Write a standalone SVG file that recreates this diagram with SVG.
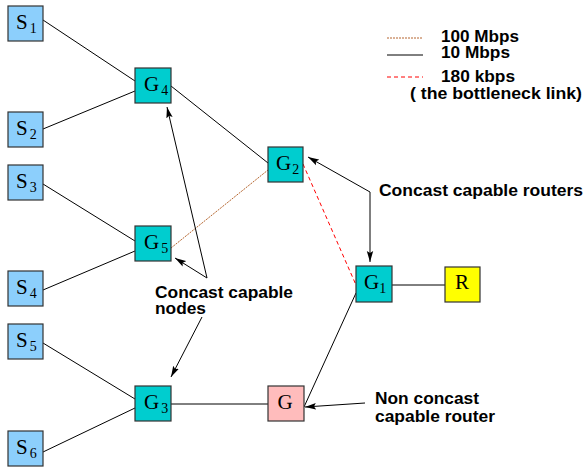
<svg xmlns="http://www.w3.org/2000/svg" width="585" height="467" viewBox="0 0 585 467">
<style>
.s{fill:#8ccffc;stroke:#333;stroke-width:1.2}
.g{fill:#00cdcf;stroke:#333;stroke-width:1.2}
.p{fill:#ffbcbc;stroke:#333;stroke-width:1.2}
.y{fill:#ffff00;stroke:#333;stroke-width:1.2}
.lbl{font-family:"Liberation Serif","Times New Roman",serif;font-size:21px;fill:#000}
.sub{font-size:14px}
.t{font-family:"Liberation Sans",Arial,sans-serif;font-weight:bold;font-size:16px;fill:#000}
.ln{stroke:#000;stroke-width:1;fill:none}
.dot{stroke:#b5652e;stroke-width:1;stroke-dasharray:2 1;fill:none}
.dash{stroke:#ff0000;stroke-width:1;stroke-dasharray:4 3;fill:none}
.ar{stroke:#000;stroke-width:1;fill:none}
</style>
<defs>
<marker id="ah" markerUnits="userSpaceOnUse" markerWidth="12" markerHeight="8" refX="11" refY="4" orient="auto">
<path d="M0,0.8 L11,4 L0,7.2 L2,4 Z" fill="#000"/>
</marker>
</defs>
<rect width="585" height="467" fill="#fff"/>
<g id="connectors">
<line class="ln" x1="43" y1="20" x2="135" y2="81"/>
<line class="ln" x1="43" y1="129" x2="135" y2="91"/>
<line class="ln" x1="43" y1="184" x2="135" y2="241"/>
<line class="ln" x1="43" y1="290" x2="135" y2="251"/>
<line class="ln" x1="43" y1="343" x2="135" y2="399"/>
<line class="ln" x1="43" y1="452" x2="135" y2="408"/>
<line class="ln" x1="171" y1="86" x2="268" y2="163"/>
<line class="dot" x1="171" y1="248" x2="268" y2="170"/>
<line class="dash" x1="303" y1="164" x2="356" y2="285"/>
<line class="ln" x1="392" y1="285" x2="445" y2="285"/>
<line class="ln" x1="171" y1="404" x2="268" y2="404"/>
<line class="ln" x1="304" y1="407" x2="356" y2="293"/>
<polyline class="ar" points="370,192 308,157" marker-end="url(#ah)"/>
<polyline class="ar" points="370,192 370,262" marker-end="url(#ah)"/>
<line class="ar" x1="207" y1="278" x2="167" y2="107" marker-end="url(#ah)"/>
<line class="ar" x1="207" y1="278" x2="175" y2="258" marker-end="url(#ah)"/>
<line class="ar" x1="202" y1="317" x2="171" y2="377" marker-end="url(#ah)"/>
<line class="ar" x1="365" y1="403" x2="305" y2="407" marker-end="url(#ah)"/>
</g>
<g id="S1"><rect class="s" x="8" y="6" width="35" height="35"/><text class="lbl" x="16" y="29">S<tspan class="sub" dx="2" dy="4">1</tspan></text></g>
<g id="S2"><rect class="s" x="8" y="112" width="35" height="35"/><text class="lbl" x="16" y="135">S<tspan class="sub" dx="2" dy="4">2</tspan></text></g>
<g id="S3"><rect class="s" x="8" y="165" width="35" height="35"/><text class="lbl" x="16" y="188">S<tspan class="sub" dx="2" dy="4">3</tspan></text></g>
<g id="S4"><rect class="s" x="8" y="271" width="35" height="35"/><text class="lbl" x="16" y="294">S<tspan class="sub" dx="2" dy="4">4</tspan></text></g>
<g id="S5"><rect class="s" x="8" y="324" width="35" height="35"/><text class="lbl" x="16" y="347">S<tspan class="sub" dx="2" dy="4">5</tspan></text></g>
<g id="S6"><rect class="s" x="8" y="431" width="35" height="35"/><text class="lbl" x="16" y="454">S<tspan class="sub" dx="2" dy="4">6</tspan></text></g>
<g id="G4"><rect class="g" x="135" y="68" width="36" height="35"/><text class="lbl" x="144" y="91">G<tspan class="sub" dx="2" dy="4">4</tspan></text></g>
<g id="G5"><rect class="g" x="135" y="226" width="36" height="35"/><text class="lbl" x="144" y="249">G<tspan class="sub" dx="2" dy="4">5</tspan></text></g>
<g id="G3"><rect class="g" x="135" y="386" width="36" height="35"/><text class="lbl" x="144" y="409">G<tspan class="sub" dx="2" dy="4">3</tspan></text></g>
<g id="G2"><rect class="g" x="268" y="147" width="35" height="35"/><text class="lbl" x="276" y="170">G<tspan class="sub" dx="1" dy="4">2</tspan></text></g>
<g id="G1"><rect class="g" x="356" y="266" width="36" height="36"/><text class="lbl" x="364" y="289">G<tspan class="sub" dx="0" dy="4">1</tspan></text></g>
<g id="R"><rect class="y" x="445" y="267" width="35" height="35"/><text class="lbl" x="462" y="289" text-anchor="middle">R</text></g>
<g id="G"><rect class="p" x="268" y="386" width="36" height="35"/><text class="lbl" x="285" y="409" text-anchor="middle">G</text></g>
<g id="legend">
<line class="dot" x1="387" y1="38" x2="423" y2="38"/>
<line class="ln" x1="387" y1="55" x2="423" y2="55"/>
<line class="dash" x1="387" y1="77" x2="423" y2="77"/>
<text class="t" x="441" y="42" textLength="78" lengthAdjust="spacingAndGlyphs">100 Mbps</text>
<text class="t" x="441" y="58" textLength="69" lengthAdjust="spacingAndGlyphs">10 Mbps</text>
<text class="t" x="441" y="82" textLength="74" lengthAdjust="spacingAndGlyphs">180 kbps</text>
<text class="t" x="410" y="99" textLength="172" lengthAdjust="spacingAndGlyphs">( the bottleneck link)</text>
</g>
<g id="labels">
<text class="t" x="379" y="196" textLength="204" lengthAdjust="spacingAndGlyphs">Concast capable routers</text>
<text class="t" x="155" y="298" textLength="138" lengthAdjust="spacingAndGlyphs">Concast capable</text>
<text class="t" x="155" y="314" textLength="51" lengthAdjust="spacingAndGlyphs">nodes</text>
<text class="t" x="375" y="404" textLength="104" lengthAdjust="spacingAndGlyphs">Non concast</text>
<text class="t" x="375" y="422" textLength="120" lengthAdjust="spacingAndGlyphs">capable router</text>
</g>
</svg>
